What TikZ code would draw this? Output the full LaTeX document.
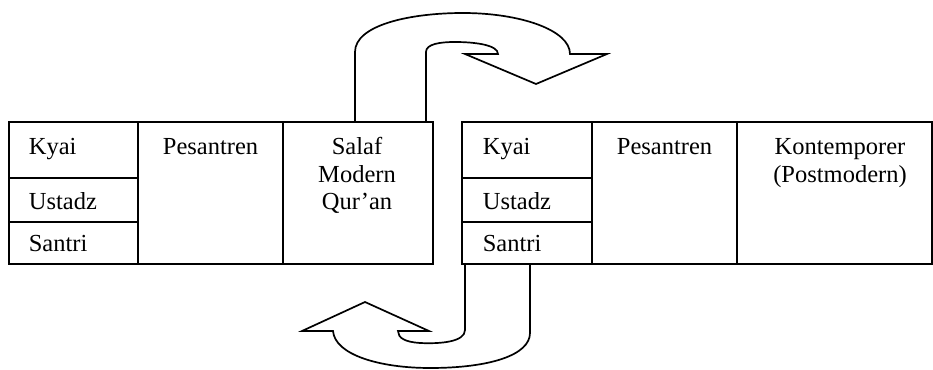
\documentclass[tikz,border=0pt]{standalone}
\usepackage{fontspec}
\setmainfont{Liberation Serif}
\begin{document}
\begin{tikzpicture}[x=1pt,y=1pt,line width=1.7pt,
  cell/.style={draw, anchor=north west, inner sep=0pt, outer sep=0pt},
  lbl/.style={font=\fontsize{24.5}{27.5}\selectfont, inner sep=0pt},
  bigarrow/.style={line join=miter}]
\useasboundingbox (0,0) rectangle (933,369);

% left block
\node[cell, minimum width=129pt, minimum height=56pt] (kyaiA)   at (9,247) {};
\node[cell, minimum width=129pt, minimum height=44pt] (ustadzA) at (9,191) {};
\node[cell, minimum width=129pt, minimum height=42pt] (santriA) at (9,147) {};
\node[cell, minimum width=145pt, minimum height=142pt] (pesA)   at (138,247) {};
\node[cell, minimum width=150pt, minimum height=142pt] (salaf)  at (283,247) {};

% right block
\node[cell, minimum width=130pt, minimum height=56pt] (kyaiB)   at (462,247) {};
\node[cell, minimum width=130pt, minimum height=44pt] (ustadzB) at (462,191) {};
\node[cell, minimum width=130pt, minimum height=42pt] (santriB) at (462,147) {};
\node[cell, minimum width=145pt, minimum height=142pt] (pesB)   at (592,247) {};
\node[cell, minimum width=195pt, minimum height=142pt] (kont)   at (737,247) {};

% labels
\node[lbl, anchor=base west] (tKyaiA)   at (28,214) {Kyai};
\node[lbl, anchor=base west] (tUstadzA) at (28,159) {Ustadz};
\node[lbl, anchor=base west] (tSantriA) at (28,117) {Santri};
\node[lbl, anchor=base] (tPesA) at (210.5,214) {Pesantren};
\node[lbl, anchor=base] (tSalaf)  at (357,214) {Salaf};
\node[lbl, anchor=base] (tModern) at (357,186) {Modern};
\node[lbl, anchor=base] (tQuran)  at (357,159) {Qur’an};

\node[lbl, anchor=base west] (tKyaiB)   at (482,214) {Kyai};
\node[lbl, anchor=base west] (tUstadzB) at (482,159) {Ustadz};
\node[lbl, anchor=base west] (tSantriB) at (482,117) {Santri};
\node[lbl, anchor=base] (tPesB) at (664.5,214) {Pesantren};
\node[lbl, anchor=base] (tKont)  at (840,214) {Kontemporer};
\node[lbl, anchor=base] (tPost)  at (840,186) {(Postmodern)};

% upper curved arrow, rising from the Salaf column
\draw[bigarrow] (355,247) -- (355,317)
  .. controls (355,344) and (410,356) .. (463,356)
  .. controls (520,356) and (570,339) .. (570,315)
  -- (607,315) -- (536,285) -- (465,315) -- (498,315)
  .. controls (498,324) and (475,327) .. (455,327)
  .. controls (440,327) and (426,325) .. (426,317)
  -- (426,247);

% lower curved arrow, hanging from the right Santri cell
\draw[bigarrow] (465,105) -- (465,39)
  .. controls (465,27) and (440,25) .. (420,26)
  .. controls (405,27) and (398,31) .. (398,38)
  -- (429,38) -- (365,67) -- (302,38) -- (333,38)
  .. controls (335,14) and (380,1) .. (430,1)
  .. controls (490,1) and (530,14) .. (530,36)
  -- (530,105);
\end{tikzpicture}
\end{document}
